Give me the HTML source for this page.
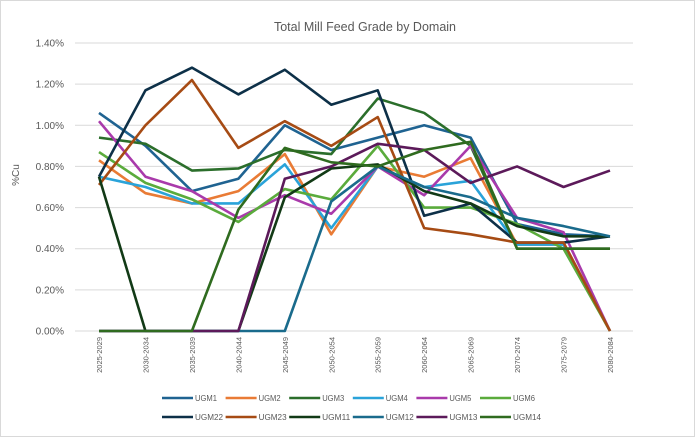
<!DOCTYPE html>
<html><head><meta charset="utf-8"><style>
body{margin:0;background:#fff;}
svg{display:block;font-family:"Liberation Sans",sans-serif;}
</style></head><body>
<svg id="c" width="700" height="437">
<rect x="0.5" y="0.5" width="694" height="436" fill="#fff" stroke="#d9d9d9"/>
<text x="365" y="31" text-anchor="middle" font-size="12.5" fill="#595959">Total Mill Feed Grade by Domain</text>
<text transform="translate(19,175) rotate(-90)" text-anchor="middle" font-size="10" fill="#595959">%Cu</text>
<g id="grid"></g><g id="lines"></g><g id="legend"></g>
</svg>
<script>
const categories=["2025-2029","2030-2034","2035-2039","2040-2044","2045-2049","2050-2054","2055-2059","2060-2064","2065-2069","2070-2074","2075-2079","2080-2084"];
const yTicks=[0,0.2,0.4,0.6,0.8,1.0,1.2,1.4];
const seriesNames=["UGM1","UGM2","UGM3","UGM4","UGM5","UGM6","UGM22","UGM23","UGM11","UGM12","UGM13","UGM14"];
const seriesColors=["#1f6391","#e97b35","#2b6e2b","#2aa3d9","#a93aab","#5aab3c","#0d3048","#a64b14","#123a16","#1a6b8c","#5c1a5a","#2f6b1f"];
const UGM1=[1.06,0.90,0.68,0.74,1.00,0.88,0.94,1.00,0.94,0.52,0.47,0.46];
const UGM2=[0.83,0.67,0.62,0.68,0.86,0.47,0.80,0.75,0.84,0.42,0.42,0.00];
const UGM3=[0.94,0.91,0.78,0.79,0.88,0.86,1.13,1.06,0.90,0.40,0.40,0.40];
const UGM4=[0.75,0.70,0.62,0.62,0.81,0.50,0.80,0.70,0.73,0.42,0.42,0.00];
const UGM5=[1.02,0.75,0.68,0.55,0.66,0.57,0.80,0.66,0.90,0.55,0.48,0.00];
const UGM6=[0.87,0.72,0.64,0.53,0.69,0.64,0.90,0.60,0.60,0.52,0.40,0.00];
const UGM22=[0.75,1.17,1.28,1.15,1.27,1.10,1.17,0.56,0.62,0.43,0.43,0.46];
const UGM23=[0.71,1.00,1.22,0.89,1.02,0.90,1.04,0.50,0.47,0.43,0.43,0.00];
const UGM11=[0.75,0.00,0.00,0.00,0.65,0.79,0.81,0.68,0.62,0.51,0.46,0.46];
const UGM12=[0.00,0.00,0.00,0.00,0.00,0.63,0.80,0.70,0.65,0.55,0.51,0.46];
const UGM13=[0.00,0.00,0.00,0.00,0.74,0.80,0.91,0.88,0.72,0.80,0.70,0.78];
const UGM14=[0.00,0.00,0.00,0.59,0.89,0.82,0.80,0.88,0.92,0.40,0.40,0.40];
const seriesValues=[UGM1,UGM2,UGM3,UGM4,UGM5,UGM6,UGM22,UGM23,UGM11,UGM12,UGM13,UGM14];
const NS="http://www.w3.org/2000/svg";
const x=i=>99+i*(511/11);
const y=v=>331-v/1.4*288;
function mk(t,a,p){const e=document.createElementNS(NS,t);for(const k in a)e.setAttribute(k,a[k]);p.appendChild(e);return e;}
const grid=document.getElementById('grid');
yTicks.forEach(t=>{
 const l=mk('line',{x1:75,x2:633,y1:y(t),y2:y(t),stroke:'#d9d9d9','stroke-width':1},grid);
 
 
 const tx=mk('text',{x:64,y:y(t)+3.5,'text-anchor':'end','font-size':10,fill:'#595959'},grid);
 tx.textContent=t.toFixed(2)+'%';
 
 
});
categories.forEach((c,i)=>{
 const tx=mk('text',{transform:`translate(${x(i)+3},337) rotate(-90)`,'text-anchor':'end','font-size':7.5,fill:'#595959'},grid);
 tx.textContent=c;
 
 
});
const lines=document.getElementById('lines');
seriesValues.forEach((vals,s)=>{
 const p=mk('polyline',{points:vals.map((v,i)=>x(i)+','+y(v)).join(' '),fill:'none',stroke:seriesColors[s],'stroke-width':2.6,'stroke-linejoin':'round'},lines);
 
 
});
const lg=document.getElementById('legend');
seriesNames.forEach((n,s)=>{
 const r=Math.floor(s/6),c=s%6;
 const lx=162+c*63.6,ly=398+r*19;
 const g=mk('g',{},lg);
 
 
 mk('line',{x1:lx,x2:lx+31,y1:ly,y2:ly,stroke:seriesColors[s],'stroke-width':2.6},g);
 const t=mk('text',{x:lx+33,y:ly+3,'font-size':8,fill:'#595959',textLength:n.length>4?28:22,lengthAdjust:'spacingAndGlyphs'},g);
 t.textContent=n;
});
</script>
</body></html>
